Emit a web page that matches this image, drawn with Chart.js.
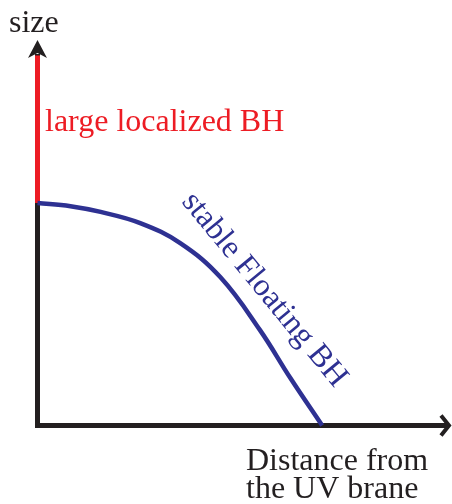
<!DOCTYPE html>
<html>
<head>
<meta charset="utf-8">
<script src="https://cdn.jsdelivr.net/npm/chart.js@4"></script>
<style>
  html, body { margin: 0; padding: 0; background: #fff; }
  canvas { display: block; }
</style>
</head>
<body>
<canvas id="c" width="452" height="504"></canvas>
<script>
// distance from UV brane (x) vs size (y), arbitrary units 0..100
const floatX = [0, 8.0, 15.3, 24.9, 34.6, 44.3, 53.9, 61.3, 69.0];
const floatY = [57.7, 56.9, 55.4, 52.5, 47.3, 38.5, 24.8, 12.3, 0];
const localizedX = [0, 0];
const localizedY = [57.7, 96];

const yLabel = 'size';
const localizedLabel = 'large localized BH';
const floatLabel = 'stable Floating BH';
const xLabelLines = ['Distance from', 'the UV brane'];

const INK = '#231f20', RED = '#ed1c24', BLUE = '#2e3192';
const SERIF = '"Liberation Serif", "Times New Roman", serif';

function pts(xs, ys) { return xs.map((x, i) => ({ x, y: ys[i] })); }

// axes with arrow heads + the hand-placed labels
const sketch = {
  id: 'sketch',
  beforeDatasetsDraw(chart) {
    const { ctx, scales: { x, y } } = chart;
    const x0 = x.getPixelForValue(0), y0 = y.getPixelForValue(0);
    const yTop = y.getPixelForValue(100), xEnd = x.getPixelForValue(100);
    ctx.save();
    ctx.strokeStyle = INK; ctx.fillStyle = INK; ctx.lineWidth = 5;
    ctx.beginPath();
    ctx.moveTo(x0, y0 + 2.5); ctx.lineTo(x0, yTop + 14);
    ctx.moveTo(x0 - 2.5, y0); ctx.lineTo(xEnd - 3, y0);
    ctx.stroke();
    // y arrow
    ctx.beginPath();
    ctx.moveTo(x0, yTop); ctx.lineTo(x0 - 9.5, yTop + 18);
    ctx.lineTo(x0, yTop + 13); ctx.lineTo(x0 + 9.5, yTop + 18);
    ctx.closePath(); ctx.fill();
    // x arrow (open chevron)
    ctx.lineWidth = 4; ctx.lineJoin = 'miter';
    ctx.beginPath();
    ctx.moveTo(xEnd - 9, y0 - 10); ctx.lineTo(xEnd - 1, y0); ctx.lineTo(xEnd - 9, y0 + 10);
    ctx.stroke();
    ctx.restore();
  },
  afterDraw(chart) {
    const { ctx } = chart;
    ctx.save();
    ctx.font = '32px ' + SERIF;
    ctx.textBaseline = 'alphabetic';
    ctx.fillStyle = INK;
    ctx.fillText(yLabel, 9, 32);
    ctx.fillText(xLabelLines[0], 246, 470);
    ctx.fillText(xLabelLines[1], 246, 498);
    ctx.fillStyle = RED;
    ctx.fillText(localizedLabel, 45, 131);
    ctx.fillStyle = BLUE;
    ctx.translate(181, 202);
    ctx.rotate(50.5 * Math.PI / 180);
    ctx.fillText(floatLabel, 0, 0);
    ctx.restore();
  }
};

new Chart(document.getElementById('c'), {
  type: 'line',
  data: {
    datasets: [
      { data: pts(floatX, floatY), borderColor: BLUE, borderWidth: 4.5,
        tension: 0.4, pointRadius: 0, clip: false },
      { data: pts(localizedX, localizedY), borderColor: RED, borderWidth: 5,
        pointRadius: 0, clip: false, borderCapStyle: 'butt' }
    ]
  },
  options: {
    responsive: false,
    animation: false,
    layout: { padding: { left: 37.5, right: 2, top: 40, bottom: 78.5 } },
    scales: {
      x: { type: 'linear', min: 0, max: 100, display: false },
      y: { type: 'linear', min: 0, max: 100, display: false }
    },
    plugins: { legend: { display: false }, tooltip: { enabled: false } }
  },
  plugins: [sketch]
});
</script>
</body>
</html>
